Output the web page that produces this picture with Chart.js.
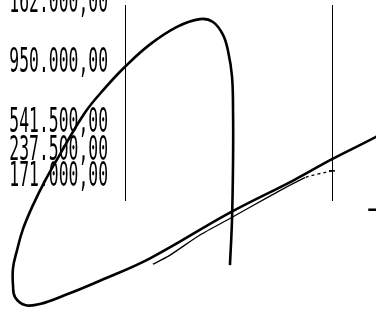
<!DOCTYPE html>
<html>
<head>
<meta charset="utf-8">
<script src="https://cdn.jsdelivr.net/npm/chart.js@4/dist/chart.umd.min.js"></script>
<style>
  body { margin: 0; background: #fff; }
  #chart { display: block; }
</style>
</head>
<body>
<canvas id="chart" width="376" height="311"></canvas>
<script>
// tick labels on the left axis
var tickLabels = ["162.000,00", "950.000,00", "541.500,00", "237.500,00", "171.000,00"];
var tickValues = [101.5, 70.5, 39.5, 25.5, 12];

// main curve
var curveX = [132.9, 121.3, 100, 81.2, 50.7, 12.1, -12.1, -28.0, -41.1, -48.3, -53.1, -54.1, -54.1, -52.2, -49.3, -44.4, -38.6, -31.4, -19.3, -9.7, 0, 12.1, 25.1, 36.2, 42.5, 47.3, 49.8, 51.7, 52.2, 52.2, 51.7, 50.7];
var curveY = [39.5, 32.5, 21, 10, -6.5, -30, -41.5, -48.5, -53.5, -54, -50, -44, -35, -26, -15, -2.5, 10, 23.5, 45, 57.5, 68.5, 80, 89, 93, 91.5, 85, 76.5, 63.5, 45, 20, -10, -33.5];

// thin second line
var thinX = [100, 87, 70, 50.7, 36.2, 20.8, 13.5];
var thinY = [15, 11.5, 2, -9.5, -18, -29, -33];

// short dash at right
var markX = [122.5, 117.5];
var markY = [-5, -5];

function toPoints(xs, ys) {
  return xs.map(function (x, i) {
    return { x: x, y: ys[i] };
  });
}

// draw the tall narrow axis labels
var stretchedTicks = {
  id: "stretchedTicks",
  beforeDatasetsDraw: function (chart) {
    var ctx = chart.ctx;
    var scale = chart.scales.y;
    ctx.save();
    ctx.fillStyle = "#000";
    ctx.font = '16.4px "DejaVu Sans Mono"';
    ctx.textAlign = "right";
    ctx.textBaseline = "alphabetic";
    tickValues.forEach(function (v, i) {
      var y = scale.getPixelForValue(v);
      ctx.save();
      ctx.translate(scale.right - 17, y + 9.2);
      ctx.scale(1, 2.1);
      ctx.fillText(tickLabels[i], 0, 0);
      ctx.restore();
    });
    ctx.restore();
  },
};

new Chart(document.getElementById("chart").getContext("2d"), {
  type: "scatter",
  data: {
    datasets: [
      {
        data: toPoints(curveX, curveY),
        showLine: true,
        borderColor: "#000",
        borderWidth: 2.6,
        tension: 0.4,
        pointRadius: 0,
        clip: false,
      },
      {
        data: toPoints(thinX, thinY),
        showLine: true,
        borderColor: "#000",
        borderWidth: 1.3,
        tension: 0.2,
        pointStyle: "line",
        pointRadius: [3, 0, 0, 0, 0, 0, 0],
        pointBorderWidth: 1.5,
        clip: false,
        segment: {
          borderDash: function (ctx) {
            return ctx.p0DataIndex === 0 ? [3, 3] : undefined;
          },
        },
      },
      {
        data: toPoints(markX, markY),
        showLine: true,
        borderColor: "#000",
        borderWidth: 2.5,
        pointRadius: 0,
        clip: false,
      },
    ],
  },
  options: {
    responsive: false,
    animation: false,
    devicePixelRatio: 1,
    layout: { padding: { left: 0, right: 44, top: 0, bottom: 111 } },
    scales: {
      x: { type: "linear", min: 0, max: 100, display: false },
      y: {
        min: 0,
        max: 100,
        position: "left",
        grid: { display: false, drawTicks: false },
        border: { display: true, color: "#000", width: 1 },
        ticks: { display: false },
        afterFit: function (s) {
          s.width = 125;
          s.paddingTop = 0;
          s.paddingBottom = 0;
        },
      },
      y2: {
        min: 0,
        max: 100,
        position: "right",
        grid: { display: false, drawTicks: false },
        border: { display: true, color: "#000", width: 1 },
        ticks: { display: false },
        afterFit: function (s) {
          s.width = 0;
          s.paddingTop = 0;
          s.paddingBottom = 0;
        },
      },
    },
    plugins: {
      legend: { display: false },
      tooltip: { enabled: false },
    },
  },
  plugins: [stretchedTicks],
});
</script>
</body>
</html>
